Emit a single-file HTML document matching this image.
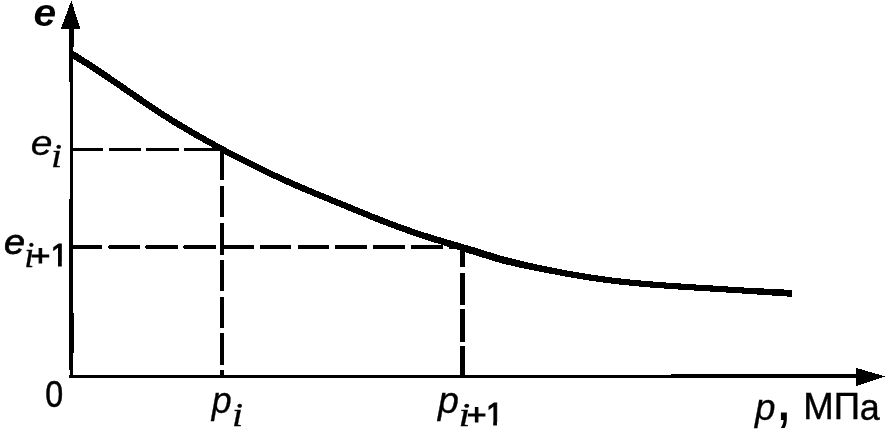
<!DOCTYPE html>
<html><head><meta charset="utf-8"><title>e-p</title>
<style>
html,body{margin:0;padding:0;background:#fff;}
svg{display:block}
text{font-family:"Liberation Sans",sans-serif;fill:#000;stroke:#000;stroke-width:1px}
.it{font-style:italic}
.b{font-weight:bold}
.s{font-family:"Liberation Serif",serif;font-style:italic}
</style></head><body>
<svg width="889" height="434" viewBox="0 0 889 434">
<rect width="889" height="434" fill="#fff"/>
<!-- axes -->
<g fill="#000" shape-rendering="crispEdges">
<rect x="69" y="28" width="5" height="19"/>
<rect x="69" y="47" width="4" height="35"/>
<rect x="70" y="82" width="3" height="117"/>
<rect x="69" y="199" width="4" height="114"/>
<rect x="69" y="313" width="5" height="40"/>
<rect x="69" y="353" width="4" height="17"/>
<rect x="70" y="370" width="3" height="8"/>
<rect x="69" y="375" width="602" height="3"/>
<rect x="671" y="374" width="189" height="4"/>
<polygon points="71.3,0.5 61,28.6 80.2,28.6"/>
<polygon points="885.3,376.4 856,367.9 856,386"/>
<!-- dashed -->
<rect x="72" y="148" width="31" height="3"/>
<rect x="109" y="148" width="32" height="3"/>
<rect x="146" y="148" width="33" height="3"/>
<rect x="184" y="148" width="34" height="3"/>
<rect x="72" y="245" width="30" height="4"/>
<polygon points="108,247.0 109.2,245 140,245 140,249 109.2,249"/>
<polygon points="145,247.0 146.2,245 178,245 178,249 146.2,249"/>
<polygon points="183,247.0 184.2,245 216,245 216,249 184.2,249"/>
<rect x="223" y="245" width="30.8" height="4"/>
<rect x="260" y="245" width="31" height="4"/>
<rect x="297.8" y="245" width="31.2" height="4"/>
<rect x="335" y="245" width="32" height="4"/>
<rect x="372.8" y="245" width="32.2" height="4"/>
<rect x="410.9" y="245" width="32.1" height="4"/>
<rect x="448.6" y="245" width="13.4" height="4"/>
<rect x="220" y="147" width="4" height="32.7"/>
<rect x="220" y="185.9" width="4" height="31.1"/>
<rect x="220" y="223" width="4" height="31.8"/>
<rect x="220" y="260" width="4" height="30.8"/>
<rect x="220" y="297" width="4" height="30.6"/>
<rect x="220" y="333.1" width="4" height="31.9"/>
<rect x="220" y="370" width="4" height="6"/>
<rect x="460" y="247" width="5" height="19.6"/>
<rect x="460" y="272.9" width="5" height="32.1"/>
<rect x="460" y="308.7" width="5" height="33.2"/>
<rect x="460" y="346" width="5" height="30"/>
<!-- curve -->
<path d="M72.0,50.0 L79.8,54.9 L85.8,58.7 L91.8,62.7 L97.8,66.6 L103.8,70.6 L109.8,74.7 L115.8,78.8 L121.8,82.9 L127.8,87.1 L133.8,91.2 L139.8,95.3 L145.8,99.4 L151.8,103.5 L157.8,107.5 L163.7,111.4 L169.7,115.2 L175.7,118.9 L181.7,122.6 L187.6,126.1 L193.6,129.6 L199.6,133.1 L205.6,136.5 L211.5,139.8 L217.5,143.1 L223.5,146.4 L229.5,149.6 L235.5,152.7 L241.4,155.8 L247.4,158.9 L253.4,161.9 L259.4,164.8 L265.4,167.7 L271.3,170.6 L277.3,173.4 L283.3,176.1 L289.3,178.8 L295.3,181.5 L301.3,184.1 L307.2,186.6 L313.2,189.2 L319.2,191.6 L325.2,194.1 L331.2,196.6 L337.2,199.0 L343.2,201.5 L349.2,203.9 L355.2,206.4 L361.2,208.9 L367.2,211.3 L373.2,213.8 L379.2,216.1 L385.2,218.5 L391.1,220.8 L397.1,223.0 L403.1,225.2 L409.1,227.3 L415.0,229.4 L421.0,231.4 L427.0,233.3 L433.0,235.2 L439.0,237.0 L445.0,238.8 L451.0,240.6 L457.0,242.3 L463.0,244.1 L469.1,245.8 L475.1,247.6 L481.1,249.5 L487.1,251.4 L493.1,253.3 L499.0,255.1 L504.9,256.8 L510.8,258.3 L516.8,259.8 L522.7,261.2 L528.7,262.6 L534.7,263.9 L540.6,265.2 L546.6,266.5 L552.6,267.7 L558.6,268.9 L564.6,270.0 L570.5,271.1 L576.5,272.1 L582.5,273.1 L588.5,274.1 L594.5,275.0 L600.4,275.9 L606.4,276.7 L612.4,277.5 L618.4,278.2 L624.3,278.9 L630.3,279.5 L636.3,280.1 L642.3,280.6 L648.3,281.1 L654.2,281.6 L660.2,282.1 L666.2,282.5 L672.2,282.9 L678.2,283.3 L684.2,283.7 L690.2,284.1 L696.2,284.5 L702.2,284.9 L708.2,285.2 L714.2,285.6 L720.2,286.0 L726.2,286.4 L732.2,286.8 L738.2,287.1 L744.2,287.5 L750.2,287.8 L756.2,288.1 L762.2,288.4 L768.2,288.7 L774.2,289.0 L780.2,289.3 L786.2,289.6 L792.0,289.8 L792.0,296.8 L785.8,296.4 L779.8,296.0 L773.8,295.6 L767.8,295.2 L761.8,294.8 L755.8,294.4 L749.8,294.0 L743.8,293.6 L737.8,293.2 L731.8,292.8 L725.8,292.5 L719.8,292.1 L713.8,291.7 L707.8,291.4 L701.8,291.0 L695.8,290.6 L689.8,290.2 L683.8,289.9 L677.8,289.5 L671.8,289.1 L665.8,288.7 L659.8,288.2 L653.8,287.8 L647.7,287.3 L641.7,286.8 L635.7,286.2 L629.7,285.6 L623.7,285.0 L617.6,284.3 L611.6,283.6 L605.6,282.8 L599.6,282.0 L593.5,281.2 L587.5,280.2 L581.5,279.3 L575.5,278.3 L569.5,277.2 L563.4,276.2 L557.4,275.0 L551.4,273.9 L545.4,272.7 L539.4,271.5 L533.3,270.3 L527.3,269.1 L521.3,267.9 L515.2,266.6 L509.2,265.2 L503.1,263.7 L497.0,262.0 L490.9,260.2 L484.9,258.3 L478.9,256.4 L472.9,254.6 L466.9,252.8 L461.0,250.9 L455.0,249.0 L449.0,247.1 L443.0,245.2 L437.0,243.3 L431.0,241.4 L425.0,239.4 L419.0,237.4 L413.0,235.4 L406.9,233.3 L400.9,231.2 L394.9,229.0 L388.9,226.8 L382.8,224.4 L376.8,222.1 L370.8,219.7 L364.8,217.2 L358.8,214.8 L352.8,212.3 L346.8,209.8 L340.8,207.3 L334.8,204.9 L328.8,202.4 L322.8,200.0 L316.8,197.5 L310.8,195.0 L304.8,192.5 L298.7,189.9 L292.7,187.3 L286.7,184.6 L280.7,181.9 L274.7,179.1 L268.7,176.3 L262.6,173.4 L256.6,170.5 L250.6,167.5 L244.6,164.5 L238.6,161.4 L232.5,158.3 L226.5,155.2 L220.5,151.9 L214.5,148.7 L208.5,145.4 L202.4,142.0 L196.4,138.6 L190.4,135.2 L184.4,131.6 L178.3,128.0 L172.3,124.4 L166.3,120.6 L160.3,116.8 L154.2,112.8 L148.2,108.8 L142.2,104.8 L136.2,100.7 L130.2,96.5 L124.2,92.4 L118.2,88.2 L112.2,84.1 L106.2,80.0 L100.2,76.0 L94.2,72.0 L88.2,68.1 L82.2,64.4 L76.2,60.9 L72.0,58.5Z"/>
</g>
<!-- labels -->
<text transform="translate(33.5,25.8) scale(1.06,1)" font-size="38.5" class="it b" style="stroke-width:0px">e</text>
<text transform="translate(30.7,154.6) scale(1.12,1)" font-size="34.9" class="it" style="stroke-width:0.3px">e</text>
<text transform="translate(50.9,166.8) scale(1.22,1)" font-size="32.7" class="s" style="stroke-width:0.3px">i</text>
<text transform="translate(4.0,254.3) scale(1.07,1)" font-size="35.2" class="it" style="stroke-width:0.8px">e</text>
<text transform="translate(24.2,267) scale(1.04,1)" font-size="35" class="s" style="stroke-width:0.3px">i</text>
<text transform="translate(30.6,265.6) scale(1.15,1)" font-size="29.5">+</text>
<text x="50.8" y="265.5" font-size="31">1</text>
<rect x="50" y="262" width="8.0" height="6" fill="#fff"/><rect x="61.8" y="262" width="6" height="6" fill="#fff"/>
<text transform="translate(45.2,406.7) scale(0.88,1)" font-size="36.6" style="stroke-width:0.5px">0</text>
<text transform="translate(211.7,413.4) scale(0.99,1)" font-size="36.1" class="it" style="stroke-width:0.3px">p</text>
<text transform="translate(231.9,426.0) scale(1.22,1)" font-size="32.7" class="s" style="stroke-width:0.3px">i</text>
<text transform="translate(437.9,413.4) scale(1.04,1)" font-size="36.1" class="it" style="stroke-width:0.3px">p</text>
<text transform="translate(458.4,426.2) scale(1.3,1)" font-size="32.7" class="s" style="stroke-width:0.3px">i</text>
<text transform="translate(466.7,424.8) scale(1.15,1)" font-size="29.5">+</text>
<text x="485.9" y="425.3" font-size="31.5">1</text>
<rect x="485" y="422" width="8.2" height="6" fill="#fff"/><rect x="496.95" y="422" width="6" height="6" fill="#fff"/>
<text x="755.0" y="420.0" font-size="36.8" class="it" style="stroke-width:0.3px">p</text>
<text transform="translate(778.1,420.35) scale(0.84,1)" font-size="50" class="b" style="stroke-width:0px">,</text>
<text x="803.3" y="418.8" font-size="36.6" style="stroke-width:0.4px">МП<tspan dy="0.9" dx="-0.3" font-size="36">а</tspan></text>
</svg>
</body></html>
